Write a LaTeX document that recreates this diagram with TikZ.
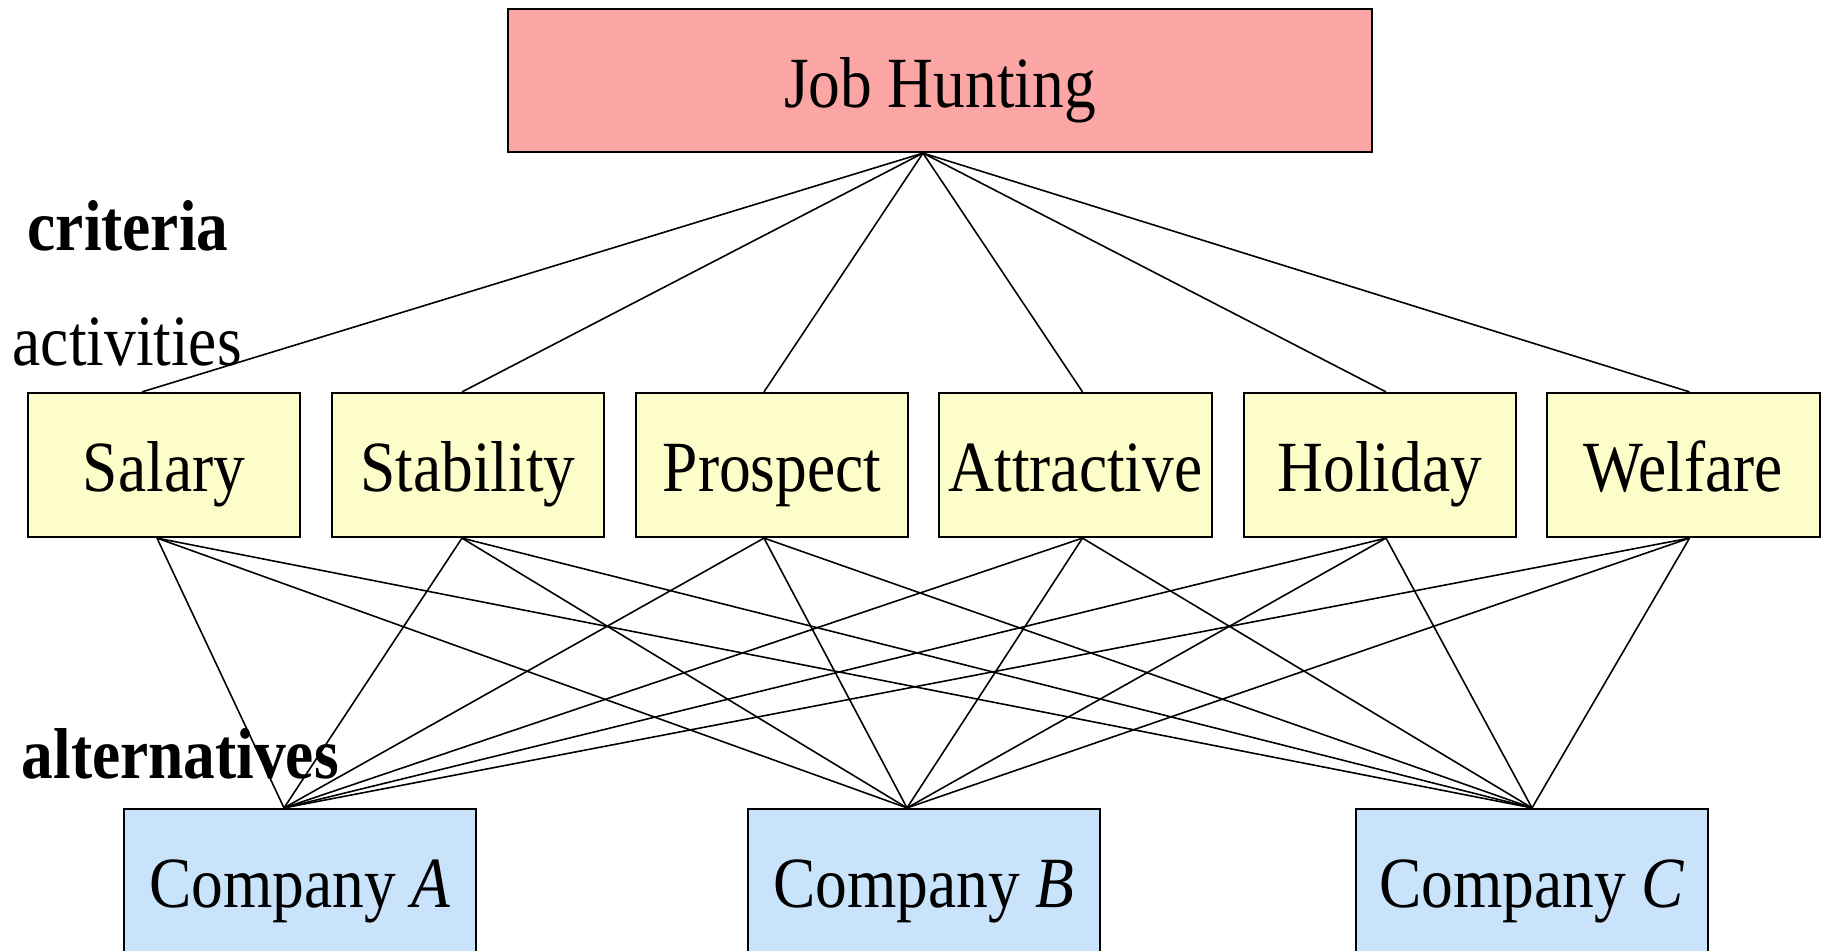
\documentclass[tikz,border=0pt]{standalone}
\usepackage{fontspec}
\setmainfont{Liberation Serif}[FakeStretch=0.88]
\begin{document}
\begin{tikzpicture}[x=0.01cm,y=-0.01cm,
  box/.style={draw=black,line width=0.6pt,inner sep=0pt,anchor=center,
    text height=0.6cm,text depth=0.07cm,
    font=\fontsize{20.5}{24}\selectfont},
  goal/.style={box,fill=goalfill,minimum width=8.64cm,minimum height=1.43cm},
  crit/.style={box,fill=critfill,minimum width=2.72cm,minimum height=1.44cm},
  alt/.style={box,fill=altfill,minimum width=3.51cm,minimum height=1.43cm},
  tag/.style={anchor=base west,inner sep=0pt,font=\fontsize{20.5}{24}\selectfont},
  link/.style={draw=black,line width=0.45pt}]
\definecolor{goalfill}{HTML}{FCA5A5}
\definecolor{critfill}{HTML}{FDFDC9}
\definecolor{altfill}{HTML}{C9E3FB}
\useasboundingbox (0,0) rectangle (1823,951);
\clip (0,0) rectangle (1823,951);
\fill[white] (0,0) rectangle (1823,951);

% goal
\node[goal] (jh) at (940,80.5) {Job Hunting};

% criteria
\node[crit] (sal) at (164,465) {Salary};
\node[crit] (sta) at (468,465) {Stability};
\node[crit] (pro) at (772,465) {Prospect};
\node[crit] (att) at (1075.5,465) {Attractive};
\node[crit] (hol) at (1380,465) {Holiday};
\node[crit] (wel) at (1683.5,465) {Welfare};

% alternatives
\node[alt] (ca) at (300,880.5) {Company \textit{A}};
\node[alt] (cb) at (924,880.5) {Company \textit{B}};
\node[alt] (cc) at (1532,880.5) {Company \textit{C}};

% level labels
\node[tag] (lcrit) at (27,250) {\textbf{criteria}};
\node[tag] (lact) at (12,365) {activities};
\node[tag] (lalt) at (21,778) {\textbf{alternatives}};

% goal to criteria
\foreach \c/\dt in {sal/-22,sta/-6,pro/-8,att/7,hol/6,wel/6}
  \draw[link] ([xshift=-0.17cm]jh.south) -- ([xshift=\dt*0.01cm]\c.north);

% criteria to alternatives
\foreach \c/\db in {sal/-7,sta/-6,pro/-8,att/7,hol/6,wel/6}
  \foreach \k/\dk in {ca/-16,cb/-17,cc/0}
    \draw[link] ([xshift=\db*0.01cm]\c.south) -- ([xshift=\dk*0.01cm]\k.north);
\end{tikzpicture}
\end{document}
